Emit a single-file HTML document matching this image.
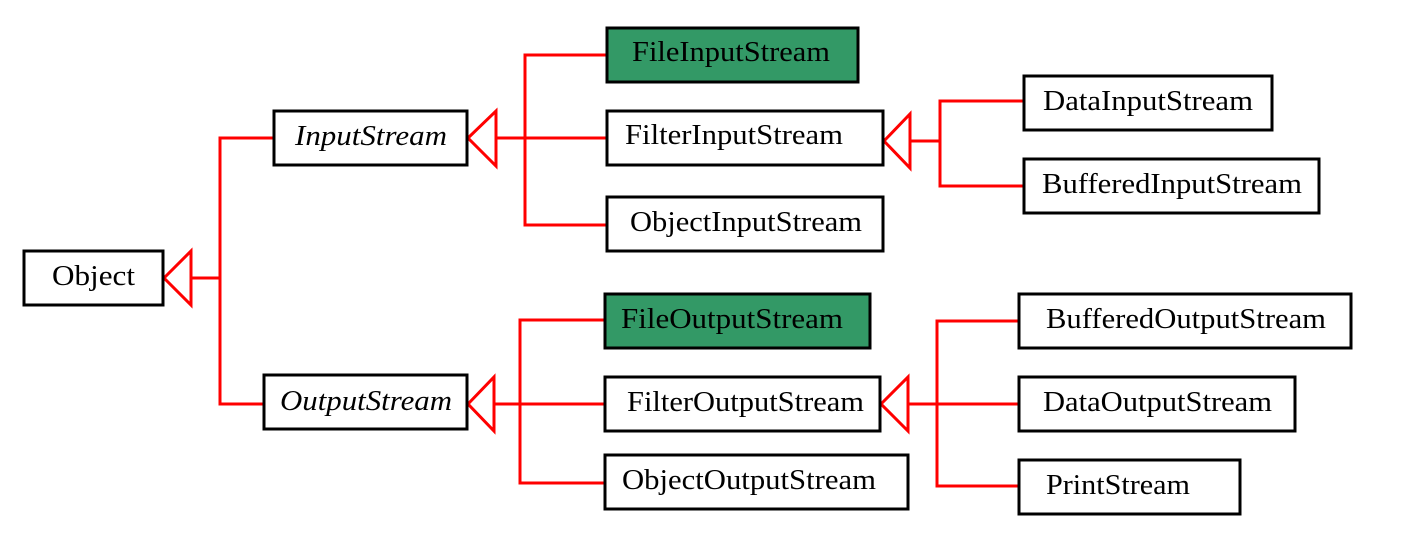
<!DOCTYPE html>
<html><head><meta charset="utf-8"><style>
html,body{margin:0;padding:0;background:#fff;}
svg{display:block;}
text{font-family:"Liberation Serif",serif;font-size:29px;fill:#000;}
</style></head><body>
<svg width="1402" height="537" viewBox="0 0 1402 537" xmlns="http://www.w3.org/2000/svg">
<g fill="none" stroke="#ff0000" stroke-width="3">
<polygon points="164,278 191,251 191,305" />
<line x1="191" y1="278" x2="220" y2="278"/>
<polyline points="274,138 220,138 220,404 264,404"/>
<polygon points="468,138 496,111 496,166"/>
<line x1="496" y1="138" x2="607" y2="138"/>
<polyline points="607,55 525,55 525,225 607,225"/>
<polygon points="884,141 910,114 910,168"/>
<line x1="910" y1="141" x2="940" y2="141"/>
<polyline points="1024,101 940,101 940,186 1024,186"/>
<polygon points="468,404 494,377 494,431"/>
<line x1="494" y1="404" x2="605" y2="404"/>
<polyline points="605,320 520,320 520,483 605,483"/>
<polygon points="881,404 908,377 908,431"/>
<line x1="908" y1="404" x2="1019" y2="404"/>
<polyline points="1019,321 937,321 937,486 1019,486"/>
</g>
<g stroke="#000" stroke-width="3" fill="#fff">
<rect x="24" y="251" width="139" height="54"/>
<rect x="274" y="111" width="193" height="54"/>
<rect x="264" y="375" width="203" height="54"/>
<rect x="607" y="28" width="251" height="54" fill="#339966"/>
<rect x="607" y="111" width="276" height="54"/>
<rect x="607" y="197" width="276" height="54"/>
<rect x="1024" y="76" width="248" height="54"/>
<rect x="1024" y="159" width="295" height="54"/>
<rect x="605" y="294" width="265" height="54" fill="#339966"/>
<rect x="605" y="377" width="275" height="54"/>
<rect x="605" y="455" width="303" height="54"/>
<rect x="1019" y="294" width="332" height="54"/>
<rect x="1019" y="377" width="276" height="54"/>
<rect x="1019" y="460" width="221" height="54"/>
</g>
<text x="52" y="285" textLength="83" lengthAdjust="spacingAndGlyphs">Object</text>
<text x="295" y="145" font-style="italic" textLength="152" lengthAdjust="spacingAndGlyphs">InputStream</text>
<text x="280" y="410" font-style="italic" textLength="172" lengthAdjust="spacingAndGlyphs">OutputStream</text>
<text x="632" y="61" textLength="198" lengthAdjust="spacingAndGlyphs">FileInputStream</text>
<text x="625" y="144" textLength="218" lengthAdjust="spacingAndGlyphs">FilterInputStream</text>
<text x="630" y="231" textLength="232" lengthAdjust="spacingAndGlyphs">ObjectInputStream</text>
<text x="1043" y="110" textLength="210" lengthAdjust="spacingAndGlyphs">DataInputStream</text>
<text x="1042" y="193" textLength="260" lengthAdjust="spacingAndGlyphs">BufferedInputStream</text>
<text x="621" y="328" textLength="222" lengthAdjust="spacingAndGlyphs">FileOutputStream</text>
<text x="627" y="411" textLength="237" lengthAdjust="spacingAndGlyphs">FilterOutputStream</text>
<text x="622" y="489" textLength="254" lengthAdjust="spacingAndGlyphs">ObjectOutputStream</text>
<text x="1046" y="328" textLength="280" lengthAdjust="spacingAndGlyphs">BufferedOutputStream</text>
<text x="1043" y="411" textLength="229" lengthAdjust="spacingAndGlyphs">DataOutputStream</text>
<text x="1046" y="494" textLength="144" lengthAdjust="spacingAndGlyphs">PrintStream</text>
</svg>
</body></html>
